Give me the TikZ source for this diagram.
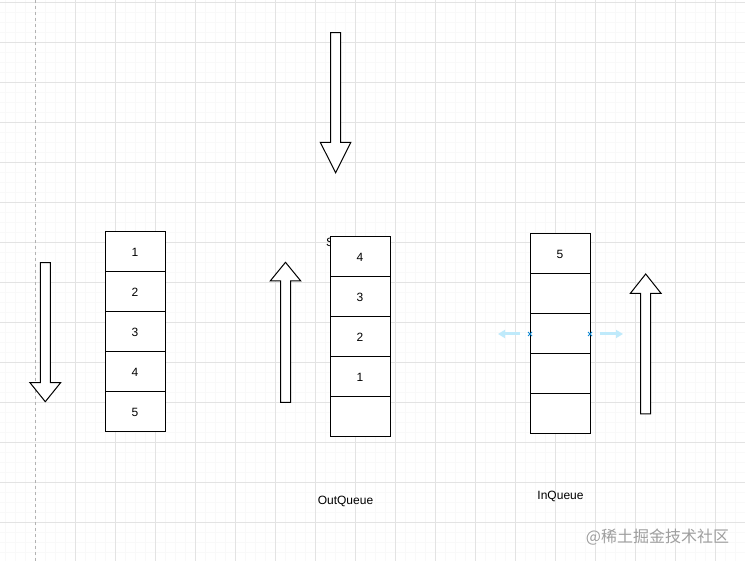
\documentclass[tikz,border=0pt]{standalone}
\usepackage{fontspec}
\setmainfont{Liberation Sans}
\newfontfamily\cjkfont{Noto Sans CJK SC}
\usetikzlibrary{positioning}
\usetikzlibrary{arrows.meta}

% block arrow: centre x, tail y, head base y, tip y, head half width
\newcommand{\blockarrow}[5]{%
  \draw[blockarr] (#1-5,#2) -- (#1-5,#3) -- (#1-#5,#3) -- (#1,#4)
    -- (#1+#5,#3) -- (#1+5,#3) -- (#1+5,#2) -- cycle;}

\begin{document}
\begin{tikzpicture}[x=1pt,y=-1pt,
    cell/.style={rectangle,draw,line width=1pt,fill=white,minimum width=60pt,
      minimum height=40pt,inner sep=0pt,outer sep=0pt,font=\fontsize{12}{14}\selectfont},
    blockarr/.style={draw,line width=1pt,fill=white,line join=miter},
    gridminor/.style={draw=black!2.5,line width=0.6pt},
    gridmajor/.style={draw=black!11,line width=0.8pt},
    label/.style={font=\fontsize{12}{14}\selectfont,inner sep=0pt},
    handle/.style={-{Triangle[width=8pt,length=7pt]},line width=3pt,draw=cyan!25}]

  \useasboundingbox (0,0) rectangle (745,561);
  \fill[white] (0,0) rectangle (745,561);

  % grid
  \foreach \x in {5,15,...,745} \draw[gridminor] (\x,0) -- (\x,561);
  \foreach \y in {2,12,...,561} \draw[gridminor] (0,\y) -- (745,\y);
  \foreach \x in {75,115,...,745} \draw[gridmajor] (\x,0) -- (\x,561);
  \foreach \y in {2,42,...,561} \draw[gridmajor] (0,\y) -- (745,\y);
  \draw[draw=black!30,dashed,line width=0.8pt] (35,0) -- (35,561);

  % arrows
  \blockarrow{45.3}{262.7}{382.7}{401.7}{15.3}
  \blockarrow{335.6}{32.7}{142.3}{172.7}{15.3}
  \blockarrow{285.5}{402.3}{281}{262.3}{15.3}
  \blockarrow{645.7}{414}{293.3}{274}{15.3}

  % left stack
  \node[cell] (a1) at (135,252) {1};
  \node[cell, below=0pt of a1] (a2) {2};
  \node[cell, below=0pt of a2] (a3) {3};
  \node[cell, below=0pt of a3] (a4) {4};
  \node[cell, below=0pt of a4] (a5) {5};

  % OutQueue
  \node[label] (s) at (330,242) {S};
  \node[cell] (b1) at (360,257) {4};
  \node[cell, below=0pt of b1] (b2) {3};
  \node[cell, below=0pt of b2] (b3) {2};
  \node[cell, below=0pt of b3] (b4) {1};
  \node[cell, below=0pt of b4] (b5) {};
  \node[label] (outq) at (345.5,501) {OutQueue};

  % InQueue
  \node[cell] (c1) at (560,254) {5};
  \node[cell, below=0pt of c1] (c2) {};
  \node[cell, below=0pt of c2] (c3) {};
  \node[cell, below=0pt of c3] (c4) {};
  \node[cell, below=0pt of c4] (c5) {};
  \node[label] (inq) at (560.5,496.5) {InQueue};

  % selection handles
  \coordinate (hl) at (498,334);
  \coordinate (hr) at (623,334);
  \draw[handle] ([xshift=-10pt]c3.west) -- (hl);
  \draw[handle] ([xshift=10pt]c3.east) -- (hr);
  \foreach \h in {c3.west,c3.east}
    \draw[cyan!70!blue,line width=0.8pt] ([shift={(-2,-2)}]\h) -- ([shift={(2,2)}]\h)
      ([shift={(-2,2)}]\h) -- ([shift={(2,-2)}]\h);

  % watermark
  \node[font=\cjkfont\fontsize{16}{18}\selectfont,text=black!38,inner sep=0pt] (wm)
    at (657.5,537) {@稀土掘金技术社区};
\end{tikzpicture}
\end{document}
